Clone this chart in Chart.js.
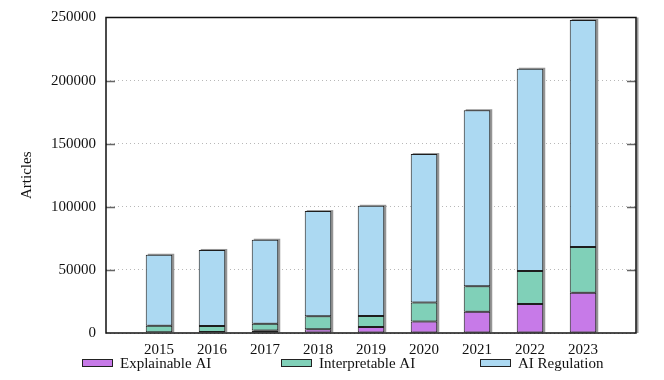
<!DOCTYPE html>
<html>
<head>
<meta charset="utf-8">
<script src="https://cdn.jsdelivr.net/npm/chart.js@4.4.1/dist/chart.umd.min.js"></script>
<style>
  html, body { margin: 0; padding: 0; background: #fff; }
  #wrap { width: 664px; height: 380px; }
</style>
</head>
<body>
<div id="wrap"><canvas id="myChart" width="664" height="380"></canvas></div>
<script>
// data
const years = [2015, 2016, 2017, 2018, 2019, 2020, 2021, 2022, 2023];
const explainable = [600, 800, 1900, 2900, 4700, 9200, 16900, 22900, 31900];
const interpretable = [5200, 4800, 5500, 10300, 8700, 15000, 20200, 26300, 36300];
const regulation = [56200, 60200, 66500, 83400, 87400, 117600, 139400, 160200, 179800];
const seriesNames = ["Explainable AI", "Interpretable AI", "AI Regulation"];
const yTicks = [0, 50000, 100000, 150000, 200000, 250000];

const colors = ["#c77ae8", "#80d0b8", "#acd9f2"];
const font = { family: "'Liberation Serif', 'DejaVu Serif', serif", size: 15 };

function toPoints(vals) {
  return years.map((yr, i) => ({ x: yr, y: vals[i] }));
}

// gray drop shadow behind each stacked bar
const barShadow = {
  id: "barShadow",
  beforeDatasetsDraw(chart) {
    const ctx = chart.ctx;
    const last = chart.getDatasetMeta(chart.data.datasets.length - 1);
    const base = chart.scales.y.getPixelForValue(0);
    ctx.save();
    ctx.fillStyle = "#959595";
    last.data.forEach((bar) => {
      const w = bar.width;
      ctx.fillRect(bar.x - w / 2 + 2, bar.y - 1, w, base - bar.y);
    });
    ctx.restore();
  },
};

// frame, inner tick marks
const frame = {
  id: "frame",
  afterDatasetsDraw(chart) {
    const { ctx, chartArea: a } = chart;
    const y = chart.scales.y;
    ctx.save();
    ctx.strokeStyle = "#666";
    ctx.lineWidth = 1.5;
    yTicks.slice(1, -1).forEach((v) => {
      const py = Math.round(y.getPixelForValue(v)) + 0.5;
      ctx.beginPath();
      ctx.moveTo(a.left, py);
      ctx.lineTo(a.left + 9, py);
      ctx.moveTo(a.right - 9, py);
      ctx.lineTo(a.right, py);
      ctx.stroke();
    });
    ctx.strokeStyle = "#999";
    ctx.lineWidth = 2;
    ctx.beginPath();
    ctx.moveTo(a.right + 1.5, a.top);
    ctx.lineTo(a.right + 1.5, a.bottom);
    ctx.stroke();
    ctx.strokeStyle = "#111";
    ctx.lineWidth = 1.5;
    ctx.strokeRect(a.left, a.top, a.right - a.left, a.bottom - a.top);
    ctx.restore();
  },
};

// legend spread along the bottom
const bottomLegend = {
  id: "bottomLegend",
  afterDraw(chart) {
    const ctx = chart.ctx;
    ctx.save();
    ctx.font = font.size + "px " + font.family;
    ctx.textBaseline = "middle";
    chart.data.datasets.forEach((ds, i) => {
      const x = 82 + i * 199;
      const yy = 363;
      ctx.fillStyle = ds.backgroundColor;
      ctx.fillRect(x, yy - 3.5, 30, 7);
      ctx.strokeStyle = "#222";
      ctx.lineWidth = 1;
      ctx.strokeRect(x + 0.5, yy - 3.5, 30, 7);
      ctx.fillStyle = "#111";
      ctx.fillText(ds.label, x + 38, yy + 1);
    });
    ctx.restore();
  },
};

const ctx = document.getElementById("myChart").getContext("2d");
const mychart = new Chart(ctx, {
  type: "bar",
  data: {
    datasets: [explainable, interpretable, regulation].map((vals, i) => ({
      label: seriesNames[i],
      data: toPoints(vals),
      backgroundColor: colors[i],
      borderColor: "#1e1e1e",
      borderWidth: 1,
      borderSkipped: false,
      barPercentage: 0.5,
      categoryPercentage: 1,
    })),
  },
  options: {
    responsive: false,
    animation: false,
    layout: { padding: { left: 0, right: 28, top: 16, bottom: 0 } },
    plugins: { legend: { display: false }, tooltip: { enabled: false } },
    scales: {
      x: {
        type: "linear",
        stacked: true,
        offset: false,
        min: 2014,
        max: 2024,
        afterFit: (s) => { s.height = 47; },
        grid: { display: false, drawTicks: false, offset: false },
        border: { display: false },
        ticks: {
          stepSize: 1,
          padding: 8,
          color: "#111",
          font: font,
          callback: (v) => (years.includes(v) ? String(v) : ""),
        },
      },
      y: {
        stacked: true,
        min: 0,
        max: 250000,
        afterFit: (s) => { s.width = 106; },
        afterBuildTicks: (s) => { s.ticks = yTicks.map((v) => ({ value: v })); },
        grid: { color: "#b8b8b8", lineWidth: 1, drawTicks: false },
        border: { display: false, dash: [1, 3] },
        ticks: { padding: 10, color: "#111", font: { ...font, lineHeight: 1 }, callback: (v) => String(v) },
        title: { display: true, text: "Articles", color: "#111", font: font, padding: { top: 18, bottom: 0 } },
      },
    },
  },
  plugins: [barShadow, frame, bottomLegend],
});
</script>
</body>
</html>
